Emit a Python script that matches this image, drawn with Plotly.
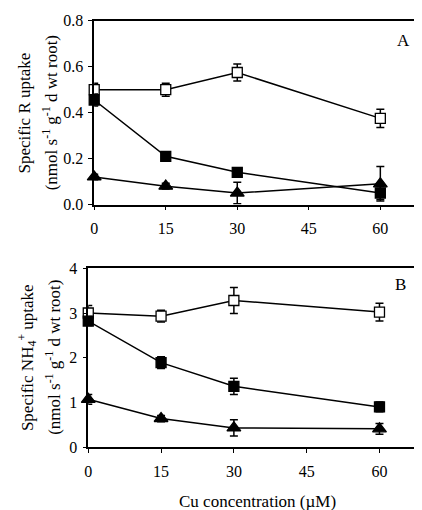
import plotly.graph_objects as go

cu = [0, 15, 30, 60]

# Panel A: specific R uptake
a_open = [0.50, 0.50, 0.575, 0.375]
a_open_err = [0.028, 0.028, 0.037, 0.04]
a_filled = [0.455, 0.21, 0.14, 0.05]
a_filled_err = [0.026, 0.012, 0.018, 0.028]
a_tri = [0.12, 0.08, 0.05, 0.09]
a_tri_err = [0.012, 0.012, 0.047, 0.075]

# Panel B: specific NH4+ uptake
b_open = [3.0, 2.93, 3.28, 3.02]
b_open_err = [0.17, 0.13, 0.29, 0.2]
b_filled = [2.82, 1.89, 1.36, 0.9]
b_filled_err = [0.1, 0.13, 0.18, 0.11]
b_tri = [1.07, 0.64, 0.43, 0.41]
b_tri_err = [0.11, 0.07, 0.18, 0.12]

FONT = "Liberation Serif, Times New Roman, serif"
fig = go.Figure()

def add_series(x, y, err, symbol, fill, xa, ya):
    fig.add_trace(go.Scatter(
        x=x, y=y, mode="lines+markers", xaxis=xa, yaxis=ya,
        line=dict(color="black", width=1.5),
        marker=dict(symbol=symbol, size=10 if "square" in symbol else 12,
                    color=fill, line=dict(color="black", width=1.3)),
        error_y=dict(type="data", array=err, visible=True, color="black",
                     thickness=1.5, width=4),
        showlegend=False, cliponaxis=False))

add_series(cu, a_open, a_open_err, "square", "white", "x", "y")
add_series(cu, a_filled, a_filled_err, "square", "black", "x", "y")
add_series(cu, a_tri, a_tri_err, "triangle-up", "black", "x", "y")
add_series(cu, b_open, b_open_err, "square", "white", "x2", "y2")
add_series(cu, b_filled, b_filled_err, "square", "black", "x2", "y2")
add_series(cu, b_tri, b_tri_err, "triangle-up", "black", "x2", "y2")

W, H = 422, 510
axcommon = dict(showline=True, linecolor="black", linewidth=1.5, mirror=True,
                ticks="outside", ticklen=4, tickcolor="black", tickwidth=1,
                showgrid=False, zeroline=False,
                tickfont=dict(family=FONT, size=16, color="black"))

fig.update_layout(
    width=W, height=H, margin=dict(l=0, r=0, t=0, b=0),
    paper_bgcolor="white", plot_bgcolor="white",
    xaxis=dict(domain=[83 / W, 420 / W], range=[0, 70], tickvals=[0, 15, 30, 45, 60],
               anchor="y", ticklabelstandoff=5, **axcommon),
    yaxis=dict(domain=[(H - 195) / H, (H - 5) / H], range=[0, 0.8],
               tickvals=[0, 0.2, 0.4, 0.6, 0.8], tickformat=".1f", anchor="x",
               ticklabelstandoff=2, **axcommon),
    xaxis2=dict(domain=[77 / W, 420 / W], range=[0, 70], tickvals=[0, 15, 30, 45, 60],
                anchor="y2", ticklabelstandoff=5, **axcommon),
    yaxis2=dict(domain=[(H - 446) / H, (H - 261) / H], range=[0, 4],
                tickvals=[0, 1, 2, 3, 4], anchor="x2", ticklabelstandoff=2, **axcommon),
)

tf = dict(family=FONT, size=17, color="black")
ann = [
    dict(text="Specific R uptake", x=13, y=(H - 100) / H, textangle=-90),
    dict(text="(nmol s<sup>-1</sup> g<sup>-1</sup> d wt root)", x=38, y=(H - 100) / H, textangle=-90),
    dict(text="Specific NH<sub>4</sub><sup>+</sup> uptake", x=15, y=(H - 353) / H, textangle=-90),
    dict(text="(nmol s<sup>-1</sup> g<sup>-1</sup> d wt root)", x=42, y=(H - 353) / H, textangle=-90),
    dict(text="A", x=395, y=(H - 25) / H, textangle=0),
    dict(text="B", x=392, y=(H - 278) / H, textangle=0),
    dict(text="Cu concentration (µM)", x=248, y=(H - 502) / H, textangle=0),
]
for a in ann:
    fig.add_annotation(text=a["text"], x=a["x"] / W, y=a["y"], xref="paper", yref="paper",
                       showarrow=False, textangle=a["textangle"], font=tf,
                       xanchor="center", yanchor="middle")

fig.write_html("out.html")
